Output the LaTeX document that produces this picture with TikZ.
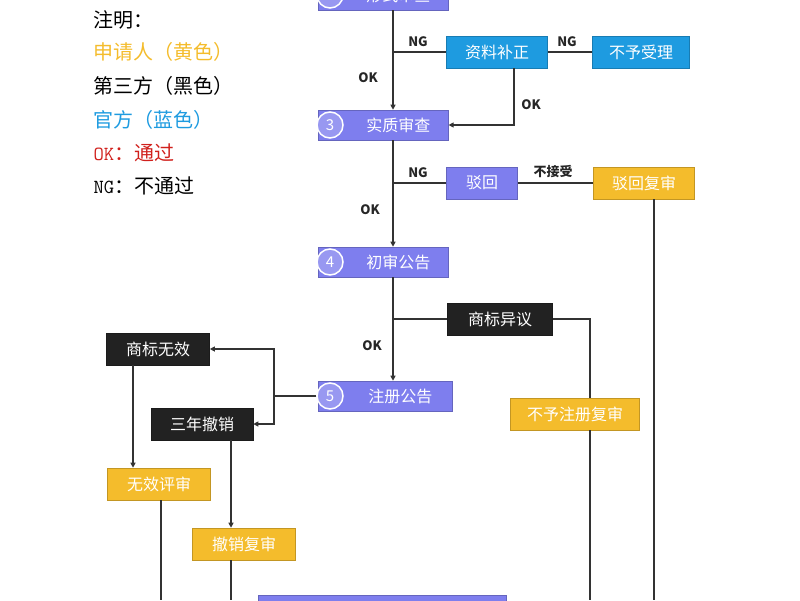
\documentclass[tikz,border=0pt]{standalone}
\usepackage{fontspec}
\setmainfont{Noto Sans CJK SC}
\usetikzlibrary{arrows.meta}
\definecolor{pur}{HTML}{7E7EEE}
\definecolor{yel}{HTML}{F4BC2C}
\definecolor{blu}{HTML}{1E9BE0}
\definecolor{blk}{HTML}{222222}
\definecolor{okred}{HTML}{D0201C}
\begin{document}
\begin{tikzpicture}[x=1pt,y=-1pt,
  box/.style={draw=#1!80!black,fill=#1,text=white,minimum height=32pt,inner sep=0pt,font=\fontsize{16}{16}\selectfont,line width=0.6pt},
  stp/.style={box=pur,minimum height=30pt,anchor=west},
  num/.style={circle,draw=white,line width=1.5pt,fill=pur!80!white,text=white,minimum size=26pt,inner sep=0pt,font=\fontsize{15}{15}\selectfont},
  ln/.style={draw=black!80,line width=1.1pt},
  arr/.style={ln,-{Triangle[length=5pt,width=5pt]}},
  lab/.style={font=\bfseries\fontsize{13}{13}\selectfont,text=black!85},
  leg/.style={anchor=west,font=\fontsize{20}{20}\selectfont}]
\useasboundingbox (0,0) rectangle (800,600);
\begin{scope}
\clip (0,0) rectangle (800,600);
% legend
\node[leg] (l0) at (90,20) {注明：};
\node[leg,text=yel] (l1) at (90,52) {申请人（黄色）};
\node[leg] (l2) at (90,86) {第三方（黑色）};
\node[leg,text=blu] (l3) at (90,120) {官方（蓝色）};
\node[leg,text=okred] (l4) at (90,153) {\texttt{OK}：通过};
\node[leg] (l5) at (90,186) {\texttt{NG}：不通过};
% x coordinates of vertical lines
\coordinate (vm) at (393,0);
\coordinate (vz) at (514,0);
\coordinate (vy) at (590,0);
\coordinate (vf) at (654,0);
\coordinate (vw) at (133,0);
\coordinate (vc) at (231,0);
\coordinate (vp) at (161,0);
% steps
\node[stp,minimum width=130pt] (s2) at (318,-5) {\hspace{30pt}形式审查};
\node[num] (c2) at (330,-5) {2};
\node[stp,minimum width=130pt] (s3) at (318,125) {\hspace{30pt}实质审查};
\node[num] (c3) at (330,125) {3};
\node[stp,minimum width=130pt] (s4) at (318,262) {\hspace{30pt}初审公告};
\node[num] (c4) at (330,262) {4};
\node[stp,minimum width=134pt] (s5) at (318,396) {\hspace{30pt}注册公告};
\node[num] (c5) at (330,396) {5};
\node[box=pur,minimum width=248pt,minimum height=30pt] (s6) at (382,610) {};
% others
\node[box=blu,minimum width=101pt] (bz) at (497,52) {资料补正};
\node[box=blu,minimum width=97pt] (bs) at (641,52) {不予受理};
\node[box=pur,minimum width=71pt] (bh) at (482,183) {驳回};
\node[box=yel,minimum width=101pt] (bf) at (644,183) {驳回复审};
\node[box=blk,minimum width=105pt] (yy) at (500,319) {商标异议};
\node[box=yel,minimum width=129pt] (bzf) at (575,414) {不予注册复审};
\node[box=blk,minimum width=103pt] (wx) at (158,349) {商标无效};
\node[box=blk,minimum width=102pt] (cx) at (202,424) {三年撤销};
\node[box=yel,minimum width=103pt] (wp) at (159,484) {无效评审};
\node[box=yel,minimum width=103pt] (cf) at (244,544) {撤销复审};
% branch points
\coordinate (j1) at (393,52);
\coordinate (j2) at (393,183);
\coordinate (j3) at (393,319);
\coordinate (j4) at (274,396);
\coordinate (e1) at (161,600);
\coordinate (e2) at (231,600);
\coordinate (e3) at (590,600);
\coordinate (e4) at (654,600);
% connectors
\draw[arr] (s2.south -| vm) -- (s3.north -| vm);
\draw[ln] (j1) -- (bz.west);
\draw[ln] (bz.east) -- (bs.west);
\draw[arr] (bz.south -| vz) |- (s3.east);
\draw[ln] (j2) -- (bh.west);
\draw[ln] (bh.east) -- (bf.west);
\draw[arr] (s3.south -| vm) -- (s4.north -| vm);
\draw[arr] (s4.south -| vm) -- (s5.north -| vm);
\draw[ln] (j3) -- (yy.west);
\draw[ln] (yy.east) -| (bzf.north -| vy);
\draw[ln] (bzf.south -| vy) -- (e3);
\draw[ln] (bf.south -| vf) -- (e4);
\draw[ln] (c5.west) -- (j4);
\draw[arr] (j4) |- (wx.east);
\draw[arr] (j4) |- (cx.east);
\draw[arr] (wx.south -| vw) -- (wp.north -| vw);
\draw[arr] (cx.south -| vc) -- (cf.north -| vc);
\draw[ln] (wp.south -| vp) -- (e1);
\draw[ln] (cf.south -| vc) -- (e2);
% labels
\node[lab] (n1) at (418,42) {NG};
\node[lab] (n2) at (567,42) {NG};
\node[lab] (o1) at (368,78) {OK};
\node[lab] (o2) at (531,105) {OK};
\node[lab] (n3) at (418,173) {NG};
\node[lab] (bj) at (553,172) {不接受};
\node[lab] (o3) at (370,210) {OK};
\node[lab] (o4) at (372,346) {OK};
\end{scope}
\end{tikzpicture}
\end{document}
